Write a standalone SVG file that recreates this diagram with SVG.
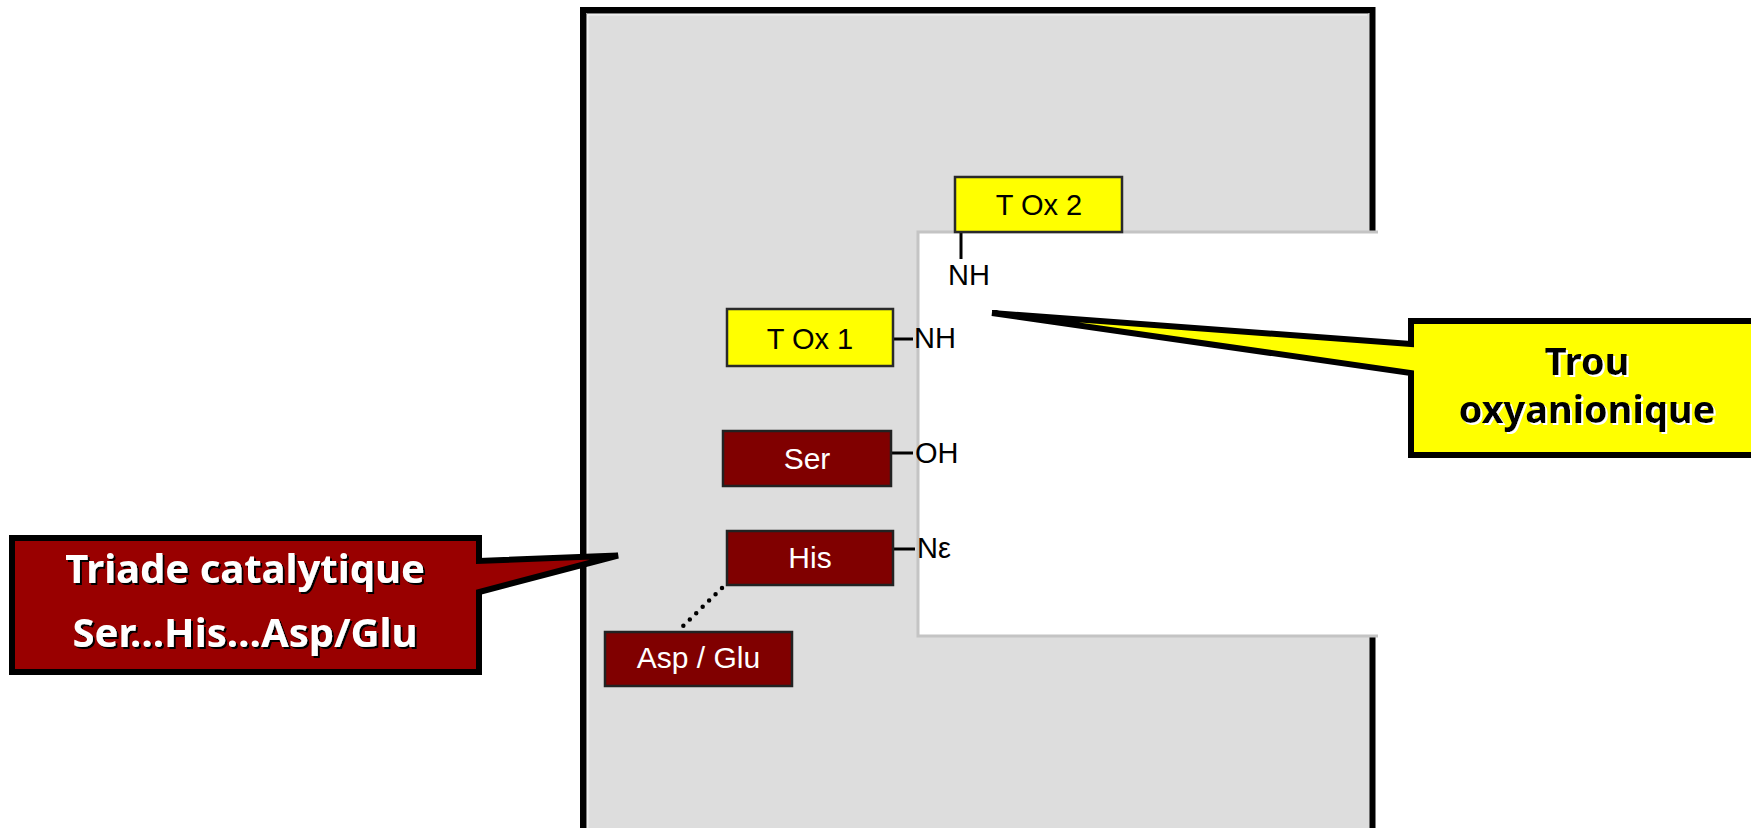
<svg xmlns="http://www.w3.org/2000/svg" width="1751" height="828" viewBox="0 0 1751 828">
<style>
.lbl{font-family:"Liberation Sans",Arial,sans-serif;font-size:29px;fill:#000}
.wl{font-family:"Liberation Sans",Arial,sans-serif;font-size:30px;fill:#fff;text-anchor:middle}
.yl{font-family:"Liberation Sans",Arial,sans-serif;font-size:29px;fill:#000;text-anchor:middle}
.ybox{fill:#ffff00;stroke:#2a2a2a;stroke-width:2.5}
.rbox{fill:#800000;stroke:#222;stroke-width:2.5}
.tick{stroke:#000;stroke-width:3;fill:none}
.call{font-family:"Noto Sans","Open Sans",sans-serif;font-weight:bold;text-anchor:middle}
</style>
<defs>
<filter id="shB" x="-5%" y="-20%" width="110%" height="140%"><feDropShadow dx="2" dy="2" stdDeviation="0.3" flood-color="#000" flood-opacity="1"/></filter>
<filter id="shW" x="-5%" y="-20%" width="110%" height="140%"><feDropShadow dx="2" dy="2" stdDeviation="0.3" flood-color="#fff" flood-opacity="1"/></filter>
</defs>
<rect width="1751" height="828" fill="#fff"/>
<g id="enzyme">
<rect x="583" y="10" width="789.5" height="900" fill="#dddddd" stroke="#000" stroke-width="6"/>
<path d="M586.5,828 V13.5 H1368.5" fill="none" stroke="#808080" stroke-width="1"/>
<path d="M587.8,828 V14.8 H1367" fill="none" stroke="#f2f2f2" stroke-width="1.2"/>
<rect x="919" y="233" width="900" height="402" fill="#fff"/>
<polyline points="1378,232 918,232 918,636 1378,636" fill="none" stroke="#c4c4c4" stroke-width="3"/>
</g>
<g id="connectors">
<line class="tick" x1="961" y1="233" x2="961" y2="259"/>
<line class="tick" x1="894" y1="339" x2="913" y2="339"/>
<line class="tick" x1="892" y1="453" x2="913" y2="453"/>
<line class="tick" x1="894" y1="549" x2="915" y2="549"/>
<line x1="722" y1="588" x2="681" y2="628" stroke="#000" stroke-width="4.5" stroke-linecap="round" stroke-dasharray="0 9"/>
</g>
<g id="tox2">
<rect class="ybox" x="955" y="177" width="167" height="55"/>
<text class="yl" x="1039" y="215">T Ox 2</text>
</g>
<g id="nh2"><text class="lbl" x="948" y="285">NH</text></g>
<g id="tox1">
<rect class="ybox" x="727" y="309" width="166" height="57"/>
<text class="yl" x="810" y="349">T Ox 1</text>
</g>
<g id="nh1"><text class="lbl" x="914" y="348">NH</text></g>
<g id="ser">
<rect class="rbox" x="723" y="431" width="168" height="55"/>
<text class="wl" x="807" y="469">Ser</text>
</g>
<g id="oh"><text class="lbl" x="915" y="463">OH</text></g>
<g id="his">
<rect class="rbox" x="727" y="531" width="166" height="54"/>
<text class="wl" x="810" y="568">His</text>
</g>
<g id="ne"><text class="lbl" x="917" y="558">Nε</text></g>
<g id="aspglu">
<rect class="rbox" x="605" y="632" width="187" height="54"/>
<text class="wl" x="698.5" y="668">Asp / Glu</text>
</g>
<g id="triade">
<path d="M12,538 H479 V561 L618,555.5 L479,592 V672 H12 Z" fill="#990000" stroke="#000" stroke-width="6" stroke-miterlimit="4"/>
<text class="call" x="245" y="583" font-size="40" fill="#fff" filter="url(#shB)">Triade catalytique</text>
<text class="call" x="245" y="647" font-size="40" fill="#fff" filter="url(#shB)">Ser…His…Asp/Glu</text>
</g>
<g id="trou">
<path d="M1411,321 H1770 V455 H1411 V373 L992,313 L1411,344 Z" fill="#ffff00" stroke="#000" stroke-width="6" stroke-miterlimit="4"/>
<text class="call" x="1587" y="375" font-size="38" fill="#000" filter="url(#shW)">Trou</text>
<text class="call" x="1587" y="423" font-size="38" fill="#000" filter="url(#shW)">oxyanionique</text>
</g>
</svg>
